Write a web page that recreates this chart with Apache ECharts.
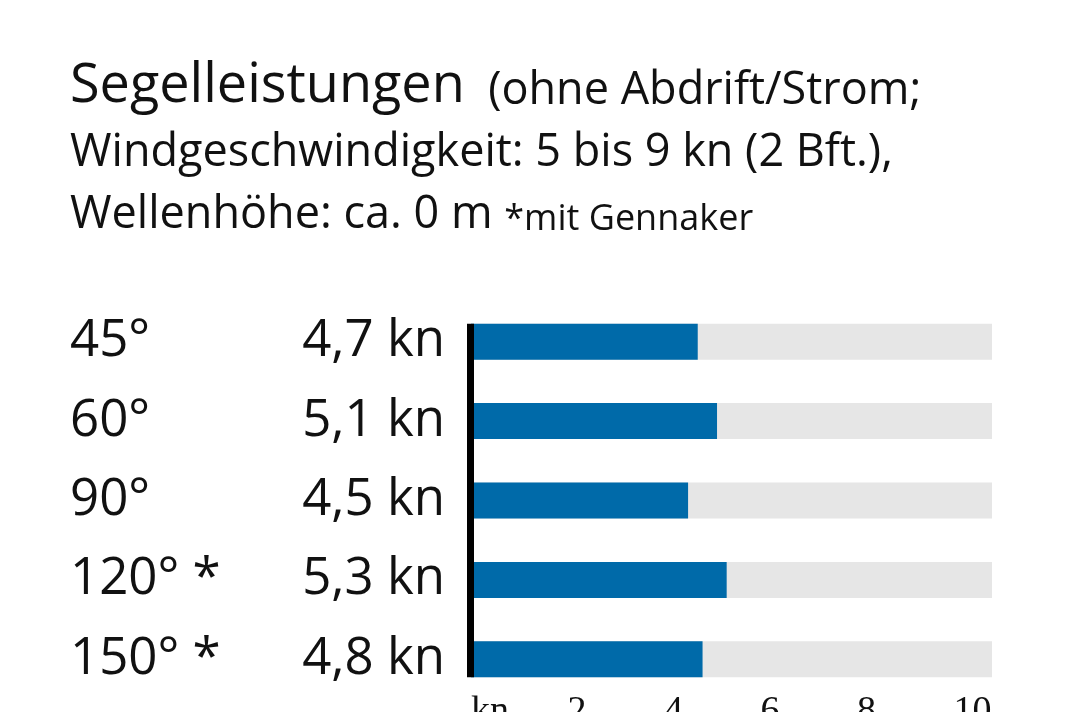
<!DOCTYPE html>
<html>
<head>
<meta charset="utf-8">
<script src="https://cdn.jsdelivr.net/npm/echarts@6/dist/echarts.min.js"></script>
<style>
  html, body { margin: 0; padding: 0; background: #ffffff; }
  #chart { width: 1068px; height: 712px; }
</style>
</head>
<body>
<div id="chart"></div>
<script>
// ---- data ----
const categories = ['45°', '60°', '90°', '120° *', '150° *'];
const speeds = [4.7, 5.1, 4.5, 5.3, 4.8];
const axisMax = 10.8;
const tickInterval = 2;
const zeroTickLabel = 'kn';

const titleText = '{big|Segelleistungen}{mid|  (ohne Abdrift/Strom;}\n' +
  '{mid|Windgeschwindigkeit: 5 bis 9 kn (2 Bft.),}\n' +
  '{mid|Wellenhöhe: ca. 0 m }{small|*mit Gennaker}';

const fmtSpeed = v => v.toFixed(1).replace('.', ',') + ' kn';

const chart = echarts.init(document.getElementById('chart'), null, { renderer: 'canvas' });
const FONT = '"Open Sans", "Noto Sans", sans-serif';

chart.setOption({
  backgroundColor: '#ffffff',
  animation: false,
  title: {
    left: 70,
    top: 52,
    padding: 0,
    text: titleText,
    textStyle: {
      fontFamily: FONT,
      fontWeight: 'normal',
      color: '#111111',
      rich: {
        big: { fontSize: 54, lineHeight: 62, fontFamily: FONT, fontWeight: 'normal', color: '#111111', verticalAlign: 'bottom' },
        mid: { fontSize: 45, lineHeight: 62, fontFamily: FONT, fontWeight: 'normal', color: '#111111', verticalAlign: 'bottom' },
        small: { fontSize: 36, lineHeight: 62, fontFamily: FONT, fontWeight: 'normal', color: '#111111', verticalAlign: 'bottom' }
      }
    }
  },
  grid: { left: 471, right: 76, top: 302, bottom: 13, containLabel: false, outerBoundsMode: 'none' },
  xAxis: {
    type: 'value',
    min: 0,
    max: axisMax,
    interval: tickInterval,
    axisLine: { show: false },
    axisTick: { show: false },
    splitLine: { show: false },
    axisLabel: {
      showMaxLabel: false,
      margin: -6,
      align: 'left',
      fontFamily: '"Liberation Serif", serif',
      fontSize: 38,
      color: '#111111',
      formatter: v => (v === 0 ? zeroTickLabel : (v % tickInterval === 0 ? String(v) : ''))
    }
  },
  yAxis: {
    type: 'category',
    data: categories,
    inverse: true,
    axisLine: { show: false },
    axisTick: { show: false },
    splitLine: { show: false },
    axisLabel: {
      margin: 26,
      formatter: (value, idx) => '{a|' + value + '}{b|' + fmtSpeed(speeds[idx]) + '}',
      rich: {
        a: { width: 235, align: 'left', fontSize: 51, fontFamily: FONT, color: '#111111' },
        b: { width: 140, align: 'right', fontSize: 51, fontFamily: FONT, color: '#111111' }
      }
    }
  },
  series: [
    {
      type: 'bar',
      data: speeds,
      barWidth: 36,
      showBackground: true,
      backgroundStyle: { color: '#e6e6e6' },
      itemStyle: { color: '#006aa9' },
      z: 2
    },
    {
      type: 'custom',
      z: 5,
      data: [[0, 0]],
      renderItem: function (params, api) {
        const top = api.coord([0, 0]);
        const bottom = api.coord([0, categories.length - 1]);
        const halfBar = 18;
        return {
          type: 'rect',
          shape: { x: top[0] - 4, y: top[1] - halfBar, width: 7, height: bottom[1] - top[1] + 2 * halfBar },
          style: { fill: '#000000' }
        };
      }
    }
  ]
});
</script>
</body>
</html>
